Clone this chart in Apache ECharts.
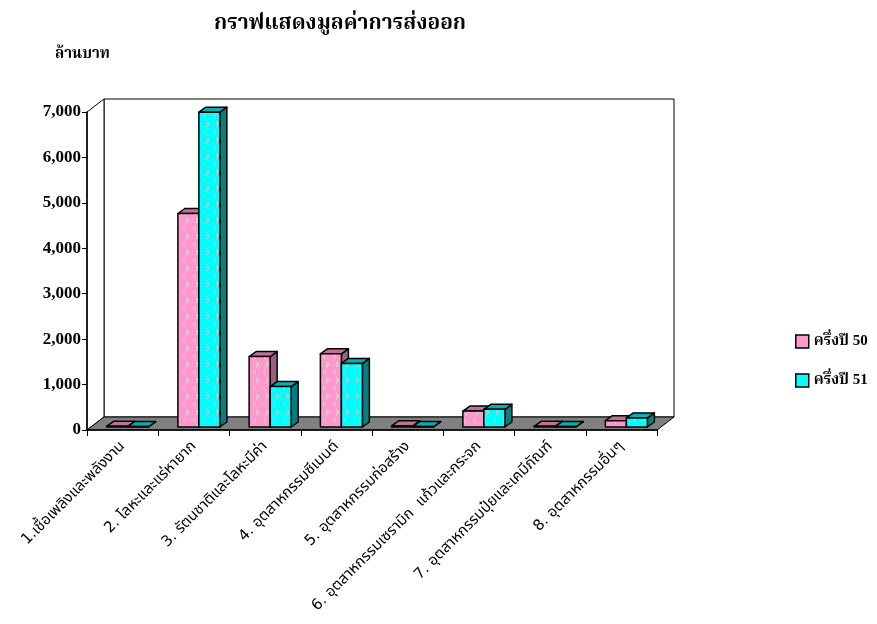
<!DOCTYPE html>
<html>
<head>
<meta charset="utf-8">
<script src="https://cdn.jsdelivr.net/npm/echarts@6/dist/echarts.min.js"></script>
<style>
html,body{margin:0;padding:0;background:#fff;}
#chart{width:877px;height:624px;}
</style>
</head>
<body>
<div id="chart"></div>
<script>
// ---- data ----
const categories = [
  '1.เชื้อเพลิงและพลังงาน',
  '2. โลหะและแร่หายาก',
  '3. รัตนชาติและโลหะมีค่า',
  '4. อุตสาหกรรมซีเมนต์',
  '5. อุตสาหกรรมก่อสร้าง',
  '6. อุตสาหกรรมเซรามิก  แก้วและกระจก',
  '7. อุตสาหกรรมปุ๋ยและเคมีภัณฑ์',
  '8. อุตสาหกรรมอื่นๆ'
];
const seriesNames = ['ครึ่งปี 50', 'ครึ่งปี 51'];
const half50 = [15, 4700, 1550, 1610, 25, 350, 15, 140];
const half51 = [10, 6930, 890, 1400, 10, 390, 10, 200];
const yTicks = [0, 1000, 2000, 3000, 4000, 5000, 6000, 7000];

// ---- styling ----
const serif = '"Liberation Serif","Times New Roman","Noto Serif Thai","Noto Sans Thai",serif';
const sans = 'Tahoma,"DejaVu Sans","Noto Sans Thai","Noto Sans",sans-serif';
const DEPTH = {dx: 17, dy: -13};
const BAR = {w: 21, dx: 7, dy: -5, shiftX: 5, shiftY: -3};
const palette = [
  {front: '#FF99CC', top: '#C0709A', side: '#99607F'},
  {front: '#00FFFF', top: '#00B3B3', side: '#008080'}
];

function makePattern(base) {
  const c = document.createElement('canvas');
  c.width = 10; c.height = 16;
  const g = c.getContext('2d');
  g.fillStyle = base; g.fillRect(0, 0, 10, 16);
  g.fillStyle = 'rgba(255,255,255,0.85)';
  const chev = (cx, cy, dir) => {
    const pts = [[0,0],[1,-1],[2,-2],[1,1],[2,2]];
    pts.forEach(p => g.fillRect(cx + dir * p[0], cy + p[1], 1, 1));
  };
  chev(3, 4, 1);
  chev(8, 12, -1);
  return {image: c, repeat: 'repeat'};
}

const chart = echarts.init(document.getElementById('chart'));

function wallRender(params, api) {
  const cs = params.coordSys;
  const x0 = cs.x, y0 = cs.y, w = cs.width, h = cs.height;
  const dx = DEPTH.dx, dy = DEPTH.dy;
  const st = {stroke: '#000', lineWidth: 1};
  return {
    type: 'group',
    children: [
      {type: 'polygon', shape: {points: [[x0+dx, y0+dy], [x0+w+dx, y0+dy], [x0+w+dx, y0+h+dy], [x0+dx, y0+h+dy]]}, style: Object.assign({fill: '#fff'}, st)},
      {type: 'polygon', shape: {points: [[x0, y0], [x0+dx, y0+dy], [x0+dx, y0+h+dy], [x0, y0+h]]}, style: Object.assign({fill: '#fff'}, st)},
      {type: 'polygon', shape: {points: [[x0, y0+h], [x0+dx, y0+h+dy], [x0+w+dx, y0+h+dy], [x0+w, y0+h]]}, style: Object.assign({fill: '#808080'}, st)}
    ]
  };
}

function barRender(si) {
  const col = palette[si];
  const pat = makePattern(col.front);
  return function (params, api) {
    const idx = api.value(0), v = api.value(1);
    const top = api.coord([idx, v]);
    const base = api.coord([idx, 0]);
    const bw = BAR.w;
    const left = base[0] - bw + si * bw + BAR.shiftX;
    const yb = base[1] + BAR.shiftY;
    const yt = Math.min(top[1] + BAR.shiftY, yb);
    const dx = BAR.dx, dy = BAR.dy;
    const st = {stroke: '#000', lineWidth: 1.5, lineJoin: 'round'};
    return {
      type: 'group',
      children: [
        {type: 'polygon', shape: {points: [[left+bw, yt], [left+bw+dx, yt+dy], [left+bw+dx, yb+dy], [left+bw, yb]]}, style: Object.assign({fill: col.side}, st)},
        {type: 'polygon', shape: {points: [[left, yt], [left+dx, yt+dy], [left+bw+dx, yt+dy], [left+bw, yt]]}, style: Object.assign({fill: col.top}, st)},
        {type: 'rect', shape: {x: left, y: yt, width: bw, height: yb - yt}, style: Object.assign({fill: pat}, st)}
      ]
    };
  };
}

const option = {
  backgroundColor: '#fff',
  animation: false,
  title: [
    {text: 'กราฟแสดงมูลค่าการส่งออก', left: 335, top: 8, textAlign: 'center',
     textStyle: {fontFamily: serif, fontWeight: 'bold', fontSize: 21, color: '#000'}},
    {text: 'ล้านบาท', left: 50, top: 42,
     textStyle: {fontFamily: serif, fontWeight: 'bold', fontSize: 15, color: '#000'}}
  ],
  legend: {
    orient: 'vertical', left: 790, top: 329, itemGap: 24,
    itemWidth: 13, itemHeight: 13, icon: 'rect',
    data: seriesNames,
    itemStyle: {borderColor: '#000', borderWidth: 1.5},
    textStyle: {fontFamily: serif, fontWeight: 'bold', fontSize: 15, color: '#000'}
  },
  grid: {left: 87, top: 112, width: 570, height: 318, containLabel: false},
  xAxis: {
    type: 'category', data: categories, boundaryGap: true,
    axisLine: {lineStyle: {color: '#000', width: 1.5}},
    axisTick: {show: true, length: 6, alignWithLabel: false, lineStyle: {color: '#000', width: 1}},
    axisLabel: {rotate: 45, interval: 0, margin: 14, fontFamily: sans, fontSize: 15, color: '#000'},
    splitLine: {show: false}
  },
  yAxis: {
    type: 'value', min: yTicks[0], max: yTicks[yTicks.length - 1], interval: yTicks[1] - yTicks[0],
    axisLine: {show: true, lineStyle: {color: '#000', width: 1.5}},
    axisTick: {show: true, length: 5, lineStyle: {color: '#000', width: 1}},
    axisLabel: {margin: 6, fontFamily: serif, fontWeight: 'bold', fontSize: 17, color: '#000',
      formatter: v => v.toLocaleString('en-US')},
    splitLine: {show: false}
  },
  series: [
    {type: 'custom', name: '_walls', silent: true, z: 0, renderItem: wallRender, data: [[0, 0]], encode: {x: 0, y: 1}},
    {type: 'custom', name: seriesNames[0], z: 2, renderItem: barRender(0), itemStyle: {color: palette[0].front},
     data: half50.map((v, i) => [i, v]), encode: {x: 0, y: 1}},
    {type: 'custom', name: seriesNames[1], z: 3, renderItem: barRender(1), itemStyle: {color: palette[1].front},
     data: half51.map((v, i) => [i, v]), encode: {x: 0, y: 1}}
  ]
};
chart.setOption(option);
</script>
</body>
</html>
